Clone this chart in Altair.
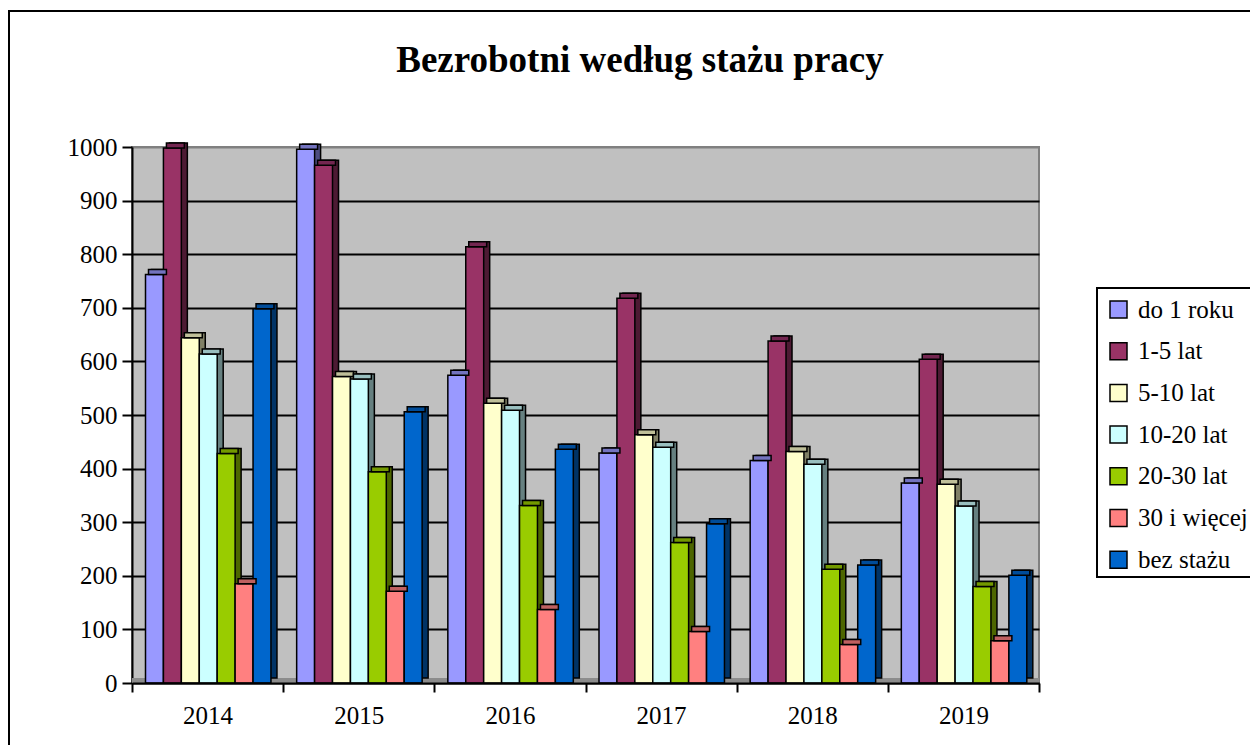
import altair as alt
import pandas as pd

years = ["2014", "2015", "2016", "2017", "2018", "2019"]
series = ["do 1 roku", "1-5 lat", "5-10 lat", "10-20 lat", "20-30 lat", "30 i więcej", "bez stażu"]

do_1_roku = [762, 996, 574, 429, 415, 373]
lat_1_5 = [998, 966, 814, 718, 638, 604]
lat_5_10 = [644, 572, 522, 463, 432, 371]
lat_10_20 = [614, 567, 509, 440, 408, 330]
lat_20_30 = [428, 394, 331, 262, 212, 180]
lat_30_plus = [185, 171, 137, 96, 72, 79]
bez_stazu = [698, 506, 436, 297, 220, 201]

values_by_series = [do_1_roku, lat_1_5, lat_5_10, lat_10_20, lat_20_30, lat_30_plus, bez_stazu]

front_colors = ["#9999FF", "#993366", "#FFFFCC", "#CCFFFF", "#99CC00", "#FF8080", "#0066CC"]
top_colors = ["#7373BF", "#732650", "#BFBF99", "#99BFBF", "#739900", "#BF6060", "#004C99"]
side_colors = ["#4D4D80", "#4D1A33", "#808066", "#668080", "#4D6600", "#804040", "#003366"]

rows = []
for s, vals, tc, sc in zip(series, values_by_series, top_colors, side_colors):
    for y, v in zip(years, vals):
        rows.append({"year": y, "series": s, "value": v, "top": tc, "side": sc})
df = pd.DataFrame(rows)

W, H = 907, 536
FONT = "Liberation Serif"
step = W / len(years)
inset = 13.5
bw = step * 0.83
DX, DY = 6, 5

x_enc = alt.X(
    "year:N", sort=years,
    scale=alt.Scale(paddingInner=0, paddingOuter=0),
    axis=alt.Axis(
        title=None, labelAngle=0, tickBand="extent", grid=False,
        domainColor="black", domainWidth=2, tickColor="black", tickWidth=2,
        tickSize=9, labelFont=FONT, labelFontSize=25, labelColor="black",
        labelPadding=11, zindex=1,
    ),
)
y_enc = alt.Y(
    "value:Q",
    scale=alt.Scale(domain=[0, 1000], nice=False),
    axis=alt.Axis(
        title=None, values=list(range(0, 1001, 100)), grid=True, format="d",
        gridColor=alt.condition("datum.value === 1000", alt.value("#808080"), alt.value("black")),
        gridWidth=2, domainColor="black", domainWidth=2, tickColor="black",
        tickWidth=2, tickSize=10, labelFont=FONT, labelFontSize=25,
        labelColor="black", labelPadding=5,
    ),
)


def offset_enc(shift):
    return alt.XOffset(
        "series:N", sort=series,
        scale=alt.Scale(domain=series, range=[inset + shift, inset + bw + shift],
                        paddingInner=0, paddingOuter=0),
    )


base = alt.Chart(df)
one = alt.Chart(pd.DataFrame({"k": [0]}))

border = one.mark_rect(fillOpacity=0, stroke="black", strokeWidth=2).encode(
    x=alt.value(-123), x2=alt.value(1300), y=alt.value(-136), y2=alt.value(800)
)
floor = one.mark_rect(fill="#8C8C8C").encode(
    x=alt.value(0), x2=alt.value(W), y=alt.value(H - DY), y2=alt.value(H)
)
legend_box = one.mark_rect(fill="white", stroke="black", strokeWidth=2).encode(
    x=alt.value(965), x2=alt.value(1300), y=alt.value(141), y2=alt.value(430)
)
title = one.mark_text(
    text="Bezrobotni według stażu pracy", font=FONT, fontSize=37,
    fontWeight="bold", align="center", baseline="alphabetic", color="black",
).encode(x=alt.value(508), y=alt.value(-75))

side = base.mark_bar(
    stroke="black", strokeWidth=1.5, yOffset=-DY, y2Offset=-DY
).encode(
    x=x_enc, y=y_enc, xOffset=offset_enc(DX),
    fill=alt.Fill("side:N", scale=None),
)

front = base.mark_bar(stroke="black", strokeWidth=1.5, fillOpacity=1).encode(
    x=x_enc, y=y_enc, xOffset=offset_enc(0),
    color=alt.Color(
        "series:N", sort=series,
        scale=alt.Scale(domain=series, range=front_colors),
        legend=alt.Legend(
            title=None, orient="none", legendX=974, legendY=150,
            symbolType="square", symbolSize=289, symbolStrokeColor="black",
            symbolStrokeWidth=1.5, symbolOpacity=1, labelFont=FONT,
            labelFontSize=25, labelColor="black", labelOffset=7,
            rowPadding=15.7, padding=0, labelLimit=300,
        ),
    ),
)

topface = base.mark_bar(stroke="black", strokeWidth=1.5, yOffset=-DY).encode(
    x=x_enc, y=y_enc, y2=alt.Y2("value:Q"), xOffset=offset_enc(DX / 2),
    fill=alt.Fill("top:N", scale=None),
)

chart = alt.layer(border, legend_box, floor, side, front, topface, title).resolve_scale(
    xOffset="independent"
).properties(
    width=W, height=H,
    autosize=alt.AutoSizeParams(type="none"),
    padding={"left": 124, "top": 139, "right": 211, "bottom": 62},
    background="white",
).configure(
    font=FONT
).configure_view(
    fill="#C0C0C0", stroke="#808080", strokeWidth=2
).configure_legend(
    labelFont=FONT, labelFontSize=25, labelColor="black"
).configure_axis(
    labelFont=FONT
)

chart.save("out.html", embed_options={"renderer": "svg", "actions": False})
